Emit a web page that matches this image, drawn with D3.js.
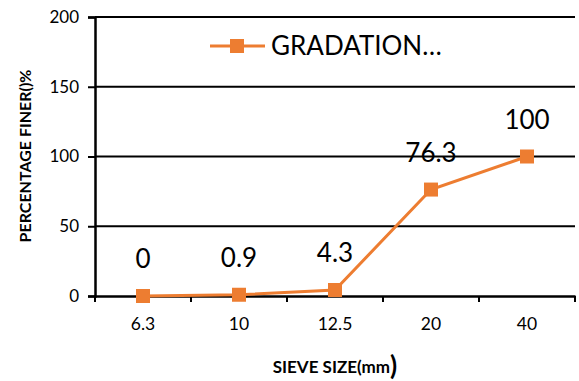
<!DOCTYPE html>
<html><head><meta charset="utf-8">
<script src="https://cdn.jsdelivr.net/npm/d3@7"></script>
<style>body{margin:0;background:#fff}svg{display:block}text{font-family:Lato,"Open Sans",sans-serif}</style>
</head><body>
<script>
const categories = ["6.3","10","12.5","20","40"];
const values = [0, 0.9, 4.3, 76.3, 100];
const yTicks = [0,50,100,150,200];
const seriesName = "GRADATION…";

const W=579,H=381;
const m={left:95,right:4,top:17,bottom:85};
const svg=d3.select("body").append("svg").attr("width",W).attr("height",H);
const x=d3.scaleBand().domain(categories).range([m.left,W-m.right]);
const y=d3.scaleLinear().domain([0,200]).range([H-m.bottom,m.top]);
const color="#ED7D31";

// gridlines
svg.append("g").selectAll("line").data(yTicks.filter(d=>d>0)).join("line")
 .attr("x1",m.left).attr("x2",W-m.right).attr("y1",d=>y(d)).attr("y2",d=>y(d))
 .attr("stroke","#000").attr("stroke-width",2);

// y axis
const ya=svg.append("g").attr("transform",`translate(${m.left},0)`)
 .call(d3.axisLeft(y).tickValues(yTicks).tickSize(7).tickPadding(9));
ya.select(".domain").attr("stroke","#000").attr("stroke-width",2.5);
ya.selectAll(".tick line").attr("stroke","#000").attr("stroke-width",2);
ya.selectAll("text").attr("font-size",17).attr("fill","#000").attr("font-family","Lato");

// x axis
const xa=svg.append("g").attr("transform",`translate(0,${y(0)})`)
 .call(d3.axisBottom(x).tickSize(0).tickPadding(22));
xa.select(".domain").attr("stroke","#000").attr("stroke-width",2.5);
xa.selectAll("text").attr("font-size",17.5).attr("fill","#000").attr("font-family","Lato");
const bounds=categories.map(c=>x(c)).concat([x(categories[categories.length-1])+x.bandwidth()]);
xa.selectAll(".sep").data(bounds).join("line").attr("class","sep")
 .attr("x1",d=>d).attr("x2",d=>d).attr("y1",0).attr("y2",6)
 .attr("stroke","#000").attr("stroke-width",2);

// line
const cx=d=>x(d.c)+x.bandwidth()/2;
const pts=categories.map((c,i)=>({c,v:values[i]}));
svg.append("path").datum(pts)
 .attr("d",d3.line().x(cx).y(d=>y(d.v)))
 .attr("fill","none").attr("stroke",color).attr("stroke-width",3);
svg.selectAll(".mk").data(pts).join("rect").attr("class","mk")
 .attr("x",d=>cx(d)-7).attr("y",d=>y(d.v)-7).attr("width",14).attr("height",14)
 .attr("fill",color);
svg.selectAll(".lbl").data(pts).join("text").attr("class","lbl")
 .attr("x",cx).attr("y",d=>y(d.v)-28).attr("text-anchor","middle")
 .attr("font-size",26).attr("fill","#000").text(d=>d.v);

// legend
const lg=svg.append("g");
lg.append("line").attr("x1",210).attr("x2",265).attr("y1",46).attr("y2",46)
 .attr("stroke",color).attr("stroke-width",3);
lg.append("rect").attr("x",230).attr("y",39).attr("width",14).attr("height",14).attr("fill",color);
lg.append("text").attr("x",271).attr("y",55).attr("font-size",26).attr("fill","#000").text(seriesName);

// axis titles
svg.append("text").attr("transform","translate(31,156) rotate(-90)")
 .attr("text-anchor","middle").attr("font-size",16).attr("font-weight","bold")
 .attr("fill","#000").text("PERCENTAGE FINER()%");
const xt=svg.append("text").attr("x",335).attr("y",373).attr("text-anchor","middle")
 .attr("font-weight","bold").attr("fill","#000");
xt.append("tspan").attr("font-size",17).text("SIEVE SIZE(mm");
xt.append("tspan").attr("font-size",26).attr("dy",2).text(")");
</script>
</body></html>
